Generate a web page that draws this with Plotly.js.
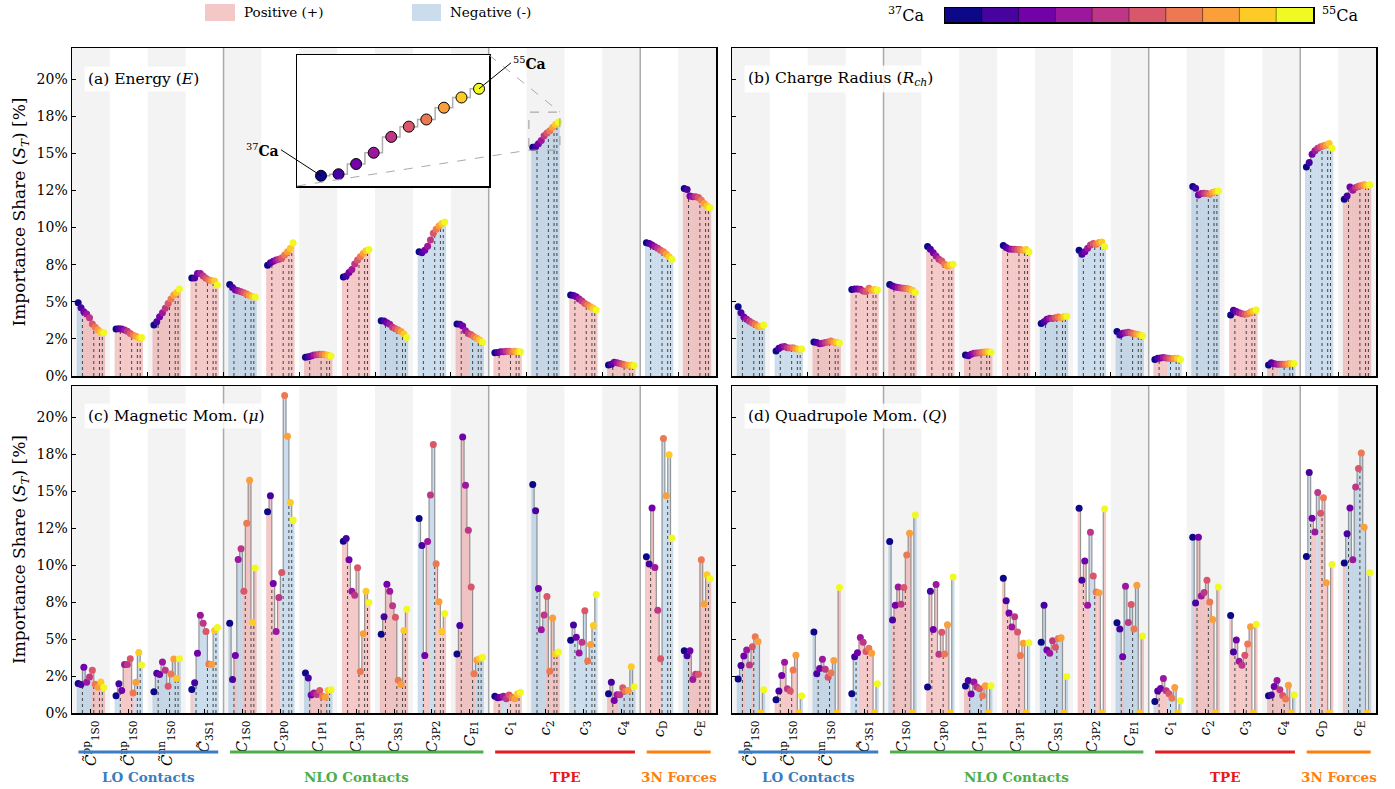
<!DOCTYPE html>
<html><head><meta charset="utf-8">
<script src="https://cdn.plot.ly/plotly-3.0.1.min.js"></script>
<style>html,body{margin:0;padding:0;background:#fff}#chart{width:1395px;height:789px}</style>
</head><body><div id="chart"></div>
<script>
// ---------------- data ----------------
const isotopes = ['37Ca','39Ca','41Ca','43Ca','45Ca','47Ca','49Ca','51Ca','53Ca','55Ca'];
const isotopeColors = ['#0d0887','#46039f','#7201a8','#9c179e','#bd3786','#d8576b','#ed7953','#fb9f3a','#fdca26','#f0f921'];
const paramLabels = [
  '<i>C̃</i><sup>pp</sup><sub>1S0</sub>','<i>C̃</i><sup>np</sup><sub>1S0</sub>','<i>C̃</i><sup>nn</sup><sub>1S0</sub>','<i>C̃</i><sub>3S1</sub>',
  '<i>C</i><sub>1S0</sub>','<i>C</i><sub>3P0</sub>','<i>C</i><sub>1P1</sub>','<i>C</i><sub>3P1</sub>','<i>C</i><sub>3S1</sub>','<i>C</i><sub>3P2</sub>','<i>C</i><sub>E1</sub>',
  '<i>c</i><sub>1</sub>','<i>c</i><sub>2</sub>','<i>c</i><sub>3</sub>','<i>c</i><sub>4</sub>','<i>c</i><sub>D</sub>','<i>c</i><sub>E</sub>'];
const categories = ['LO Contacts','NLO Contacts','TPE','3N Forces'];
const categoryColors = ['#3a7dc0','#4daf4a','#e41a1c','#ff7f0e'];
const categorySpans = [[0,3],[4,10],[11,14],[15,16]];
const yTickVals = [0,2.5,5,7.5,10,12.5,15,17.5,20];
const yTickText = ['0%','2%','5%','8%','10%','12%','15%','18%','20%'];
const shellGaps = [1,5,7,8];   // boundaries N=20,28,32,34

const energyValues = [
 [4.94,4.60,4.33,4.17,3.93,3.50,3.28,3.10,2.96,2.92],
 [3.16,3.19,3.16,3.10,3.01,2.87,2.74,2.67,2.56,2.60],
 [3.43,3.66,4.00,4.26,4.56,4.89,5.19,5.45,5.63,5.86],
 [6.60,6.60,6.91,6.91,6.73,6.58,6.46,6.42,6.40,6.13],
 [6.17,5.97,5.79,5.75,5.68,5.61,5.52,5.43,5.34,5.32],
 [7.47,7.63,7.74,7.81,7.86,7.95,8.15,8.37,8.60,8.98],
 [1.26,1.30,1.35,1.41,1.44,1.46,1.46,1.44,1.39,1.35],
 [6.67,6.73,6.98,7.18,7.54,7.81,8.04,8.26,8.44,8.53],
 [3.73,3.70,3.59,3.48,3.28,3.19,3.10,2.99,2.83,2.60],
 [8.37,8.31,8.48,8.75,9.16,9.61,9.88,10.10,10.28,10.37],
 [3.50,3.48,3.37,3.05,2.87,2.78,2.65,2.54,2.42,2.27],
 [1.57,1.59,1.64,1.64,1.66,1.66,1.64,1.66,1.64,1.64],
 [15.42,15.45,15.65,15.87,16.18,16.38,16.52,16.75,16.95,17.12],
 [5.45,5.43,5.34,5.19,5.05,4.89,4.78,4.67,4.56,4.44],
 [0.74,0.79,0.92,0.90,0.85,0.79,0.74,0.72,0.72,0.70],
 [8.98,8.93,8.82,8.71,8.60,8.48,8.37,8.22,8.04,7.86],
 [12.64,12.57,12.12,12.08,12.08,12.03,11.85,11.63,11.45,11.34]];
const energySigns = ['--++++++++','++++++++++','++++++++++','++++++++++','----------','++++++++++','++++++++++','++++++++++','----------','----------','+++++-----','++++++++++','----------','++++++++++','++++++++++','----------','++++++++++'];

const radiusValues = [
 [4.67,4.27,3.98,3.82,3.69,3.57,3.48,3.35,3.35,3.44],
 [1.69,1.87,1.96,1.98,1.91,1.89,1.91,1.84,1.80,1.82],
 [2.29,2.25,2.18,2.20,2.25,2.29,2.36,2.29,2.27,2.22],
 [5.82,5.87,5.87,5.84,5.73,5.69,5.91,5.78,5.82,5.80],
 [6.16,6.07,6.00,5.96,5.93,5.91,5.89,5.84,5.78,5.62],
 [8.72,8.54,8.31,8.09,7.87,7.75,7.53,7.42,7.48,7.53],
 [1.42,1.37,1.46,1.53,1.55,1.57,1.60,1.62,1.64,1.60],
 [8.79,8.65,8.56,8.54,8.54,8.52,8.52,8.47,8.52,8.38],
 [3.53,3.66,3.82,3.89,3.87,3.93,3.98,3.93,4.00,4.02],
 [8.47,8.20,8.38,8.61,8.83,8.92,8.88,8.99,9.03,8.72],
 [2.99,2.76,2.88,2.92,2.94,2.90,2.85,2.81,2.76,2.72],
 [1.12,1.19,1.21,1.24,1.21,1.19,1.17,1.19,1.19,1.12],
 [12.76,12.65,12.20,12.29,12.31,12.29,12.25,12.36,12.43,12.47],
 [4.11,4.43,4.34,4.27,4.20,4.16,4.20,4.31,4.38,4.47],
 [0.74,0.90,0.83,0.79,0.79,0.79,0.79,0.83,0.83,0.85],
 [14.09,14.38,14.94,15.17,15.35,15.44,15.51,15.57,15.66,15.35],
 [11.91,12.13,12.74,12.52,12.70,12.79,12.83,12.88,12.83,12.88]];
const radiusSigns = ['----------','----------','++++++++++','++++++++++','++++++++++','++++++++++','++++++++++','++++++++++','----------','----------','----------','+++++-----','----------','++++++++++','++++------','----------','++++++++++'];

const magneticValues = [
 [1.99,1.92,3.09,2.08,2.44,2.89,1.95,1.74,2.10,1.72],
 [1.16,1.97,1.52,3.27,3.27,3.67,1.36,2.08,4.09,3.24],
 [1.43,2.68,2.60,3.45,2.89,1.81,2.64,3.65,2.33,3.67],
 [1.59,2.04,4.03,6.60,6.06,5.50,3.31,3.27,5.57,5.77],
 [6.06,2.26,3.89,10.38,11.10,8.23,12.82,15.73,6.11,9.80],
 [13.60,14.68,8.75,5.50,7.81,9.49,21.45,18.70,14.23,13.04],
 [2.71,2.37,1.21,1.36,1.25,1.52,1.14,1.07,1.52,1.57],
 [11.61,11.79,10.36,8.23,7.96,9.82,2.80,5.35,8.23,7.47],
 [5.32,6.51,8.70,8.23,7.25,6.47,2.21,1.92,5.57,7.02],
 [13.15,11.32,3.89,11.59,14.74,18.14,10.09,7.52,5.50,6.73],
 [3.99,5.91,18.66,15.39,12.35,8.52,2.66,3.58,3.67,3.76],
 [1.14,1.03,1.07,1.14,0.96,1.21,1.07,0.96,1.30,1.41],
 [15.44,13.67,8.41,5.62,6.62,7.87,2.82,6.42,3.98,4.12],
 [4.92,5.95,5.12,4.05,4.79,6.91,3.51,4.63,5.91,8.01],
 [1.30,2.08,0.85,1.23,1.23,1.70,1.48,1.52,3.13,1.77],
 [10.56,10.07,13.85,9.84,6.94,3.67,18.55,14.68,17.45,11.83],
 [4.21,3.87,4.21,2.26,2.62,2.62,10.36,7.36,9.35,9.08]];
const magneticSigns = ['-----+++++','--+++++---','----------','+---------','--+--+++++','+++++-----','--++++++--','++++++++++','++++++++++','--++--++++','+++++++---','+++--+++++','-----+++++','----------','++++------','++++++----','--++++++++'];

const quadrupoleValues = [
 [2.29,3.21,3.86,4.26,3.25,4.48,5.16,4.84,0,1.57],
 [0.90,1.48,2.53,3.43,1.64,1.48,2.91,3.90,0,1.17],
 [5.47,2.65,3.00,3.63,2.96,2.42,2.71,3.54,0,8.48],
 [1.30,3.81,4.08,5.11,4.78,4.15,4.37,4.04,0,1.97],
 [11.59,6.28,7.29,8.52,7.35,8.48,10.67,12.15,0,13.39],
 [1.75,8.23,5.65,8.68,3.97,5.45,3.99,5.96,0,9.19],
 [1.82,2.20,1.28,2.09,1.75,1.64,1.17,1.84,0,1.84],
 [9.10,7.58,6.75,5.81,6.50,5.47,3.88,4.71,0,4.75],
 [4.78,7.29,4.26,4.04,4.89,4.44,5.04,5.09,0,2.47],
 [13.83,8.97,10.27,7.29,12.22,9.26,8.18,8.12,0,13.79],
 [6.10,5.67,3.81,8.57,6.12,7.33,5.67,8.63,0,5.20],
 [0.78,1.48,1.66,2.33,1.50,1.30,0.99,1.73,0,0.83],
 [11.88,7.44,11.88,7.91,8.14,8.97,7.51,6.32,0,8.52],
 [6.59,4.13,4.93,3.50,3.23,3.90,4.66,5.83,0,5.99],
 [1.17,1.21,1.79,2.20,1.57,1.19,0.94,1.88,0,1.21],
 [10.58,16.26,13.16,12.24,14.91,13.50,14.55,8.81,0,10.04],
 [10.13,12.11,13.86,10.36,15.27,16.52,17.58,12.56,0,9.48]];
const quadrupoleSigns = ['--+--+----','++++++++--','---------+','---+++++--','-+++++++--','++++++++--','++--------','++++++++--','----------','++++--++-+','--+------+','-++++-----','-+++++++-+','++++++++++','++++++++--','+-++-+++-+','+---------'];

const panelTitles = ['(a) Energy (<i>E</i>)','(b) Charge Radius (<i>R<sub>ch</sub></i>)','(c) Magnetic Mom. (<i>μ</i>)','(d) Quadrupole Mom. (<i>Q</i>)'];
const insetGroup = 12;

// ---------------- styling / layout constants ----------------
const FONT = 'DejaVu Serif';
const POS_COLOR = 'rgba(235,140,140,0.48)';
const NEG_COLOR = 'rgba(140,180,215,0.45)';
const SP = 0.075;
const W = 1395, H = 789;
const colDom = [[72/W, 716/W],[732/W, 1376/W]];
const rowDom = [[1-376/H, 1-48/H],[1-713/H, 1-386/H]];
const YR = [0, 22.1];
const XR = [-0.5, 16.5];
function xpos(k,i){ return k + (i-4.5)*SP; }

const panels = [
  {vals: energyValues, signs: energySigns, xa:'x', ya:'y'},
  {vals: radiusValues, signs: radiusSigns, xa:'x2', ya:'y2'},
  {vals: magneticValues, signs: magneticSigns, xa:'x3', ya:'y3'},
  {vals: quadrupoleValues, signs: quadrupoleSigns, xa:'x4', ya:'y4'}];

const traces = [];
panels.forEach(p => {
  const pos={x:[],y:[]}, neg={x:[],y:[]};
  const lx=[],ly=[],dx=[],dy=[],mx=[],my=[],mc=[];
  p.vals.forEach((g,k) => {
    g.forEach((v,i) => {
      const x = xpos(k,i);
      const t = p.signs[k][i]==='+' ? pos : neg;
      t.x.push(x); t.y.push(v);
      lx.push(x); ly.push(v);
      mx.push(x); my.push(v); mc.push(isotopeColors[i]);
    });
    lx.push(null); ly.push(null);
    shellGaps.forEach(j => {
      const x = k + (j+0.5-4.5)*SP;
      dx.push(x,x,null); dy.push(0, Math.min(g[j],g[j+1]), null);
    });
  });
  traces.push({type:'bar', x:pos.x, y:pos.y, width:SP, marker:{color:POS_COLOR, line:{width:0}}, xaxis:p.xa, yaxis:p.ya, showlegend:false, hoverinfo:'skip'});
  traces.push({type:'bar', x:neg.x, y:neg.y, width:SP, marker:{color:NEG_COLOR, line:{width:0}}, xaxis:p.xa, yaxis:p.ya, showlegend:false, hoverinfo:'skip'});
  traces.push({type:'scatter', mode:'lines', x:dx, y:dy, line:{color:'#444', width:1, dash:'dot'}, xaxis:p.xa, yaxis:p.ya, showlegend:false, hoverinfo:'skip'});
  traces.push({type:'scatter', mode:'lines', x:lx, y:ly, line:{color:'rgba(120,120,120,0.75)', width:1.2, shape:'hvh'}, xaxis:p.xa, yaxis:p.ya, showlegend:false, hoverinfo:'skip'});
  traces.push({type:'scatter', mode:'markers', x:mx, y:my, marker:{color:mc, size:7, line:{width:0}}, xaxis:p.xa, yaxis:p.ya, showlegend:false, hoverinfo:'skip'});
});

// inset (zoom on energy c2)
const insetX = energyValues[insetGroup].map((v,i)=>xpos(insetGroup,i));
const insetRangeX = [11.56, 12.38], insetRangeY = [15.22, 17.78];
traces.push({type:'scatter', mode:'lines', x:insetX, y:energyValues[insetGroup], line:{color:'#b0b0b0', width:1.5, shape:'hvh'}, xaxis:'x5', yaxis:'y5', showlegend:false, hoverinfo:'skip'});
traces.push({type:'scatter', mode:'markers', x:insetX, y:energyValues[insetGroup], marker:{color:isotopeColors, size:11, line:{color:'#000', width:1}}, xaxis:'x5', yaxis:'y5', showlegend:false, hoverinfo:'skip'});

// colorbar
traces.push({type:'heatmap', z:[isotopes.map((_,i)=>i)], x:isotopes.map((_,i)=>i), y:[0], zmin:0, zmax:9,
  colorscale: isotopeColors.map((c,i)=>[i/9,c]), showscale:false, xaxis:'x6', yaxis:'y6', hoverinfo:'skip'});

// ---------------- axes ----------------
function xAxis(dom, anchor, bottom){
  return {domain:dom, anchor:anchor, range:XR, showline:true, mirror:true, linecolor:'#000', linewidth:1.5,
    ticks:'inside', ticklen:4, tickwidth:1, tickcolor:'#000',
    tickmode:'array', tickvals: bottom ? paramLabels.map((_,i)=>i) : [1.5,3.5,5.5,7.5,9.5,11.5,13.5,15.5],
    ticktext: bottom ? paramLabels : undefined, showticklabels: bottom, tickangle:-90,
    tickfont:{family:FONT, size:15, color:'#000'}, showgrid:false, zeroline:false, fixedrange:true, automargin:false};
}
function yAxis(dom, anchor, left){
  const a = {domain:dom, anchor:anchor, range:YR, showline:true, mirror:true, linecolor:'#000', linewidth:1.5,
    ticks:'inside', ticklen:4, tickwidth:1, tickcolor:'#000', tickmode:'array', tickvals:yTickVals, ticktext:yTickText,
    showticklabels:left, tickfont:{family:FONT, size:14, color:'#000'}, showgrid:false, zeroline:false, fixedrange:true, automargin:false};
  if (left) a.title = {text:'Importance Share (<i>S<sub>T</sub></i>) [%]', font:{family:FONT, size:17, color:'#000'}, standoff:6};
  return a;
}
const plainAxis = {showline:true, mirror:true, linecolor:'#000', linewidth:1.5, ticks:'', showticklabels:false, showgrid:false, zeroline:false, fixedrange:true};

const layout = {
  width:W, height:H, margin:{l:0,r:0,t:0,b:0}, paper_bgcolor:'#fff', plot_bgcolor:'#fff',
  barmode:'overlay', showlegend:false, font:{family:FONT, color:'#000'},
  xaxis: xAxis(colDom[0],'y',false),  yaxis: yAxis(rowDom[0],'x',true),
  xaxis2: xAxis(colDom[1],'y2',false), yaxis2: yAxis(rowDom[0],'x2',false),
  xaxis3: xAxis(colDom[0],'y3',true),  yaxis3: yAxis(rowDom[1],'x3',true),
  xaxis4: xAxis(colDom[1],'y4',true),  yaxis4: yAxis(rowDom[1],'x4',false),
  xaxis5: Object.assign({domain:[297/W, 489/W], anchor:'y5', range:insetRangeX}, plainAxis),
  yaxis5: Object.assign({domain:[1-186/H, 1-55/H], anchor:'x5', range:insetRangeY}, plainAxis),
  xaxis6: Object.assign({domain:[945/W, 1313/W], anchor:'y6', range:[-0.5, 9.5]}, plainAxis),
  yaxis6: Object.assign({domain:[1-22/H, 1-8/H], anchor:'x6', range:[-0.5, 0.5]}, plainAxis),
  shapes: [], annotations: []
};

// background bands and category separators
panels.forEach((p, idx) => {
  for (let k=0; k<17; k+=2) {
    layout.shapes.push({type:'rect', xref:p.xa, yref:p.ya+' domain', x0:k-0.5, x1:k+0.5, y0:0, y1:1, fillcolor:'#f3f3f3', line:{width:0}, layer:'below'});
  }
  categorySpans.slice(0,3).forEach(s => {
    layout.shapes.push({type:'line', xref:p.xa, yref:p.ya+' domain', x0:s[1]+0.5, x1:s[1]+0.5, y0:0, y1:1, line:{color:'#aaaaaa', width:1.5}, layer:'below'});
  });
  layout.annotations.push({xref:p.xa+' domain', yref:p.ya+' domain', x:0.018, y:0.907, xanchor:'left', yanchor:'middle', showarrow:false,
    text:panelTitles[idx], font:{family:FONT, size:15.5, color:'#000'}, bgcolor:'rgba(255,255,255,0.85)', borderpad:3});
});

// category underlines and labels (below bottom panels)
['x3','x4'].forEach(xa => {
  categorySpans.forEach((s,c) => {
    layout.shapes.push({type:'line', xref:xa, yref:'paper', x0:s[0]-0.33, x1:s[1]+0.36, y0:1-752/H, y1:1-752/H, line:{color:categoryColors[c], width:3}});
    layout.annotations.push({xref:xa, yref:'paper', x:(s[0]+s[1])/2+0.02, y:1-777/H, xanchor:'center', yanchor:'middle', showarrow:false,
      text:'<b>'+categories[c]+'</b>', font:{family:FONT, size:13.5, color:categoryColors[c]}});
  });
});

// colorbar cell separators
for (let i=0; i<9; i++) {
  layout.shapes.push({type:'line', xref:'x6', yref:'y6 domain', x0:i+0.5, x1:i+0.5, y0:0, y1:1, line:{color:'rgba(0,0,0,0.45)', width:1}});
}

// inset: white background, dashed marker rect, connector lines, labels
layout.shapes.push({type:'rect', xref:'x5 domain', yref:'y5 domain', x0:0, x1:1, y0:0, y1:1, fillcolor:'#fff', line:{width:0}, layer:'below'});
layout.shapes.push({type:'rect', xref:'x', yref:'y', x0:insetRangeX[0], x1:insetRangeX[1], y0:insetRangeY[0], y1:insetRangeY[1], line:{color:'#999', width:1, dash:'dash'}, layer:'above'});
function toPaperX(x){ return colDom[0][0] + (x-XR[0])/(XR[1]-XR[0])*(colDom[0][1]-colDom[0][0]); }
function toPaperY(y){ return rowDom[0][0] + (y-YR[0])/(YR[1]-YR[0])*(rowDom[0][1]-rowDom[0][0]); }
layout.shapes.push({type:'line', xref:'paper', yref:'paper', x0:297/W, y0:1-186/H, x1:toPaperX(insetRangeX[0]), y1:toPaperY(insetRangeY[0]), line:{color:'#aaa', width:1, dash:'dash'}, layer:'above'});
layout.shapes.push({type:'line', xref:'paper', yref:'paper', x0:489/W, y0:1-55/H, x1:toPaperX(insetRangeX[1]), y1:toPaperY(insetRangeY[1]), line:{color:'#aaa', width:1, dash:'dash'}, layer:'above'});
layout.annotations.push({xref:'x5', yref:'y5', x:insetX[0], y:energyValues[insetGroup][0], ax:-40, ay:-26, showarrow:true, arrowhead:0, arrowwidth:1, arrowcolor:'#000',
  text:'<sup>37</sup><b>Ca</b>', font:{family:FONT, size:14, color:'#000'}, xanchor:'right'});
layout.annotations.push({xref:'x5', yref:'y5', x:insetX[9], y:energyValues[insetGroup][9], ax:32, ay:-26, showarrow:true, arrowhead:0, arrowwidth:1, arrowcolor:'#000',
  text:'<sup>55</sup><b>Ca</b>', font:{family:FONT, size:14, color:'#000'}, xanchor:'left'});

// legend (sign) and colorbar labels
layout.shapes.push({type:'rect', xref:'paper', yref:'paper', x0:205/W, x1:235/W, y0:1-21/H, y1:1-4/H, fillcolor:POS_COLOR, line:{width:0}});
layout.shapes.push({type:'rect', xref:'paper', yref:'paper', x0:412/W, x1:441/W, y0:1-21/H, y1:1-4/H, fillcolor:NEG_COLOR, line:{width:0}});
layout.annotations.push({xref:'paper', yref:'paper', x:242/W, y:1-12/H, xanchor:'left', yanchor:'middle', showarrow:false, text:'Positive (+)', font:{family:FONT, size:13.5, color:'#000'}});
layout.annotations.push({xref:'paper', yref:'paper', x:448/W, y:1-12/H, xanchor:'left', yanchor:'middle', showarrow:false, text:'Negative (-)', font:{family:FONT, size:13.5, color:'#000'}});
layout.annotations.push({xref:'paper', yref:'paper', x:926/W, y:1-14/H, xanchor:'right', yanchor:'middle', showarrow:false, text:'<sup>37</sup>Ca', font:{family:FONT, size:16, color:'#000'}});
layout.annotations.push({xref:'paper', yref:'paper', x:1320/W, y:1-14/H, xanchor:'left', yanchor:'middle', showarrow:false, text:'<sup>55</sup>Ca', font:{family:FONT, size:16, color:'#000'}});

Plotly.newPlot('chart', traces, layout, {displayModeBar:false, staticPlot:true});
</script></body></html>
